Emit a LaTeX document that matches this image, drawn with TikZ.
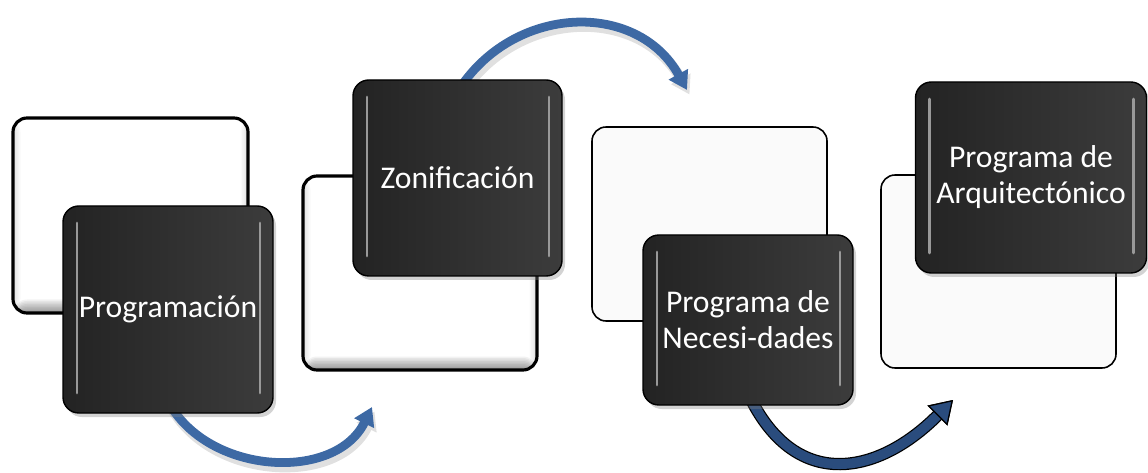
\documentclass[tikz,border=0pt]{standalone}
\usepackage{fontspec}
\setmainfont{Carlito}
\usepackage{tikz}
\usetikzlibrary{arrows.meta,positioning,calc,backgrounds,shadows}
\definecolor{tileDark}{HTML}{232323}
\definecolor{tileDarkR}{HTML}{3C3C3C}
\definecolor{tileLight}{HTML}{FAFAFA}
\definecolor{flowBlue}{HTML}{3D69A4}
\definecolor{flowNavy}{HTML}{2A4C7D}
\tikzset{
  backtile/.style = {rectangle, draw=black, line width=1.8pt, rounded corners=8pt,
                     fill=white, inner sep=0pt,
                     path picture={
                       \foreach \h in {0.03,0.06,...,0.27} {
                         \fill[black, opacity=0.05]
                           (path picture bounding box.south west) rectangle
                           ([yshift=\h cm]path picture bounding box.south east);
                       }
                       \foreach \w in {0.03,0.06,...,0.15} {
                         \fill[black, opacity=0.025]
                           (path picture bounding box.south west) rectangle
                           ([xshift=\w cm]path picture bounding box.north west);
                         \fill[black, opacity=0.025]
                           ([xshift=-\w cm]path picture bounding box.south east) rectangle
                           (path picture bounding box.north east);
                       }}},
  backtilethin/.style = {rectangle, draw=black, line width=0.9pt, rounded corners=8pt,
                         fill=tileLight, inner sep=0pt},
  fronttile/.style = {rectangle, draw=black, line width=0.8pt, rounded corners=9pt,
                      left color=tileDark, right color=tileDarkR, text=white,
                      align=center, inner sep=0pt,
                      font=\fontsize{18}{20.5}\selectfont,
                      drop shadow={shadow xshift=0.06cm, shadow yshift=-0.08cm, opacity=0.35},
                      path picture={
                        \draw[black!40, line width=1.6pt, line cap=round]
                          ([shift={(0.28,-0.34)}]path picture bounding box.north west) --
                          ([shift={(0.28,0.40)}]path picture bounding box.south west);
                        \draw[black!40, line width=1.6pt, line cap=round]
                          ([shift={(-0.26,-0.34)}]path picture bounding box.north east) --
                          ([shift={(-0.26,0.40)}]path picture bounding box.south east);}},
  flowarrow/.style = {line width=5pt, draw=flowBlue,
                      -{Triangle[length=0.36cm, width=0.42cm]},
                      preaction={draw=black!12, line width=6pt,
                                 transform canvas={shift={(0.05cm,-0.09cm)}}}},
  navyarrow/.style = {line width=5.6pt, draw=flowNavy,
                      -{Triangle[length=0.44cm, width=0.56cm, fill=flowNavy, color=black, line width=0.7pt]},
                      preaction={draw=black, line width=7pt,
                                 -{Triangle[length=0.44cm, width=0.56cm, fill=flowNavy, color=black, line width=0.7pt]}}},
}

\begin{document}
\begin{tikzpicture}[x=1cm,y=1cm,>=Latex]

  \useasboundingbox (0,0) rectangle (22.96,9.44);

  % === Step 1 ===
  \node[backtile, minimum width=4.7cm, minimum height=3.9cm] (back1) at (2.61,5.13) {};
  \node[fronttile, minimum width=4.2cm, minimum height=4.14cm] (prog) at (3.36,3.25)
    {Programación};

  % === Step 2 ===
  \node[backtile, minimum width=4.68cm, minimum height=3.88cm] (back2) at (8.40,3.98) {};
  \node[fronttile, minimum width=4.18cm, minimum height=3.92cm] (zone) at (9.15,5.88)
    {Zonificación};

  % === Step 3 ===
  \node[backtilethin, minimum width=4.7cm, minimum height=3.88cm] (back3) at (14.19,4.96) {};
  \node[fronttile, minimum width=4.2cm, minimum height=3.4cm] (need) at (14.96,3.04)
    {Programa de\\Necesi-dades};

  % === Step 4 ===
  \node[backtilethin, minimum width=4.7cm, minimum height=3.86cm] (back4) at (19.97,4.01) {};
  \node[fronttile, minimum width=4.62cm, minimum height=3.82cm] (arch) at (20.62,5.89)
    {Programa de\\Arquitectónico};

  % Arrow tips
  \coordinate (tipA) at (7.44,1.30);
  \coordinate (tipB) at (13.74,7.64);
  \coordinate (tipC) at (19.06,1.44);

  % === Arrows (behind the tiles) ===
  \begin{scope}[on background layer]
    \draw[flowarrow] ([yshift=0.25cm]prog.south) to[out=-62, in=-116, looseness=1.05] (tipA);
    \draw[flowarrow] ([yshift=-0.25cm]zone.north) to[out=58, in=119, looseness=1.15] (tipB);
    \draw[navyarrow] ([yshift=0.25cm]need.south) to[out=-65, in=-135, looseness=1.35] (tipC);
  \end{scope}

\end{tikzpicture}
\end{document}
